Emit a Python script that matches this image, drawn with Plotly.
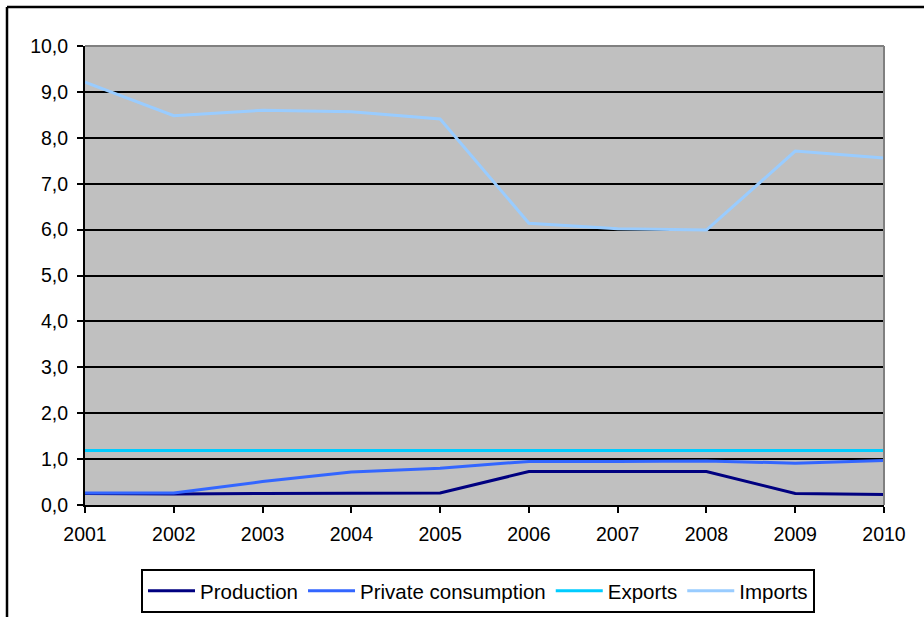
import plotly.graph_objects as go

# Annual series, 2001-2010
years = [2001, 2002, 2003, 2004, 2005, 2006, 2007, 2008, 2009, 2010]
production = [0.25, 0.24, 0.25, 0.26, 0.26, 0.73, 0.73, 0.73, 0.25, 0.23]
private_consumption = [0.26, 0.26, 0.51, 0.72, 0.80, 0.95, 0.95, 0.96, 0.91, 0.97]
exports = [1.19, 1.19, 1.19, 1.19, 1.19, 1.19, 1.19, 1.19, 1.19, 1.19]
imports = [9.21, 8.48, 8.60, 8.57, 8.41, 6.14, 6.02, 5.99, 7.71, 7.56]

series = [
    ("Production", production, "#000080"),
    ("Private consumption", private_consumption, "#3366FF"),
    ("Exports", exports, "#00CCFF"),
    ("Imports", imports, "#99CCFF"),
]

FONT = "Arial, Liberation Sans, sans-serif"

fig = go.Figure()
for name, vals, color in series:
    fig.add_trace(go.Scatter(
        x=years, y=vals, name=name, mode="lines",
        line=dict(color=color, width=3),
        cliponaxis=False,
    ))

# plot-area geometry in pixels (924 x 617 canvas)
W, H = 924, 617
L, R, T, B = 85, 40, 46, 112
pw, ph = W - L - R, H - T - B

def px_x(p):
    return (p - L) / pw

def px_y(p):
    return (H - B - p) / ph

shapes = [
    # grey frame on top and right of the plotting area
    dict(type="line", xref="paper", yref="paper", x0=0, x1=1, y0=1, y1=1,
         line=dict(color="#808080", width=2), layer="above"),
    dict(type="line", xref="paper", yref="paper", x0=1, x1=1, y0=0, y1=1,
         line=dict(color="#808080", width=2), layer="above"),
    # outer chart border (left and top edges)
    dict(type="line", xref="paper", yref="paper", x0=px_x(7), x1=px_x(7),
         y0=px_y(640), y1=px_y(7), line=dict(color="black", width=2.5)),
    dict(type="line", xref="paper", yref="paper", x0=px_x(7), x1=px_x(960),
         y0=px_y(7), y1=px_y(7), line=dict(color="black", width=2.5)),
]

fig.update_layout(
    width=W, height=H,
    margin=dict(l=L, r=R, t=T, b=B, autoexpand=False),
    paper_bgcolor="white",
    plot_bgcolor="#C0C0C0",
    separators=",.",
    font=dict(family=FONT, size=19.5, color="black"),
    showlegend=True,
    legend=dict(
        orientation="h",
        x=px_x(141), y=px_y(569), xanchor="left", yanchor="top",
        bordercolor="black", borderwidth=2, bgcolor="white",
        font=dict(family=FONT, size=20.5, color="black"),
        itemwidth=47,
        traceorder="normal",
    ),
    shapes=shapes,
)

fig.update_xaxes(
    range=[2001, 2010],
    tickmode="array", tickvals=years, ticktext=[str(y) for y in years],
    showgrid=False, zeroline=False,
    showline=True, linecolor="black", linewidth=2,
    ticks="outside", ticklen=6, tickwidth=2, tickcolor="black",
    ticklabelstandoff=5,
)
fig.update_yaxes(
    range=[0, 10], dtick=1, tickformat=".1f",
    showgrid=True, gridcolor="black", gridwidth=2,
    zeroline=False,
    showline=True, linecolor="black", linewidth=2,
    ticks="outside", ticklen=6, tickwidth=2, tickcolor="black",
    ticklabelstandoff=5,
)

fig.write_html("out.html")
